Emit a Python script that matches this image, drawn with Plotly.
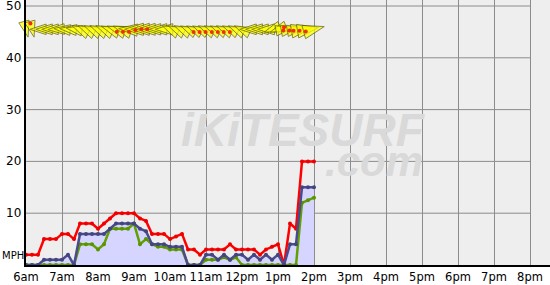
import math
import plotly.graph_objects as go

# ---- data ----
times = ["06:00","06:10","06:20","06:30","06:40","06:50","07:00","07:10","07:20","07:30",
         "07:40","07:50","08:00","08:10","08:20","08:30","08:40","08:50","09:00","09:10",
         "09:20","09:30","09:40","09:50","10:00","10:10","10:20","10:30","10:40","10:50",
         "11:00","11:10","11:20","11:30","11:40","11:50","12:00","12:10","12:20","12:30",
         "12:40","12:50","13:00","13:10","13:20","13:30","13:40","13:50","14:00"]
gust = [2,2,2,5,5,5,6,6,5,8,
        8,8,7,8,9,10,10,10,10,9,
        8.5,6,6,6,5,5.5,6,3,3,2,
        3,3,3,3,4,3,3,3,3,2,
        3,3.5,4,0,8,7,20,20,20]
avg = [0,0,0,1,1,1,1,2,0,6,
       6,6,6,6,7,8,8,8,8,7,
       6.5,4,4,4,3.5,3.5,3.5,0,0,0,
       2,2,1,2,1,2,2,1,2,1,
       2,1,2,0,4,4,15,15,15]
lull = [0,0,0,0,0,0,0,0,0,4,
        4,4,3,4,7,7,7,7,8,4,
        5,4,3.5,3.5,3,3,3,0,0,0,
        1,1,1,1.5,1,1.5,0,0,0,0,
        0,0,0,0,0,0,12,12.5,13]
direction = [165,165,270,270,270,268,275,275,280,295,
             295,295,295,295,290,290,290,275,270,270,
             270,270,270,270,295,295,295,295,295,295,
             295,295,295,295,295,295,295,270,270,270,
             270,250,250,80,80,80,80,80,75]
gusty = [1,1,0,0,0,0,0,0,0,0,
         0,0,0,0,1,1,1,1,1,1,
         0,0,0,0,0,0,0,1,1,1,
         1,1,1,1,0,0,0,0,0,0,
         0,0,1,0,1,1,1,1,1]
hour_vals = [6,7,8,9,10,11,12,13,14,15,16,17,18,19,20]
hour_labels = ["6am","7am","8am","9am","10am","11am","12pm","1pm","2pm","3pm",
               "4pm","5pm","6pm","7pm","8pm"]
y_ticks = [10, 20, 30, 40, 50]

x = [int(t[:2]) + int(t[3:]) / 60 for t in times]

PX_PER_HOUR = 36.0
PX_PER_MPH = 265 / 51.16

fig = go.Figure()

fig.add_trace(go.Scatter(x=x, y=avg, mode="none", fill="tozeroy",
                         fillcolor="#D5D5FF", hoverinfo="skip"))
fig.add_trace(go.Scatter(x=x, y=lull, mode="lines+markers",
                         line=dict(color="#62A000", width=2.5),
                         marker=dict(size=4, color="#5A9400")))
fig.add_trace(go.Scatter(x=x, y=gust, mode="lines+markers",
                         line=dict(color="#FF0000", width=2.5),
                         marker=dict(size=4, color="#EE0000")))
fig.add_trace(go.Scatter(x=x, y=avg, mode="lines+markers",
                         line=dict(color="#4A4A8E", width=2.5),
                         marker=dict(size=4, color="#44447F")))

# wind direction arrows (centred on each reading, red tail marks gusts)
arrow_level = 45.5
arrow_size = [17 + 0.35 * a for a in avg]
ax_, ay_, tx_, ty_ = [], [], [], []
for xi, d, s, g in zip(x, direction, arrow_size, gusty):
    half = 0.95 * s / 2
    dx = math.sin(math.radians(d))
    dy = math.cos(math.radians(d))
    ax_.append(xi + dx * half / PX_PER_HOUR)
    ay_.append(arrow_level + dy * half / PX_PER_MPH)
    if g:
        tx_.append(xi - dx * (half - 2) / PX_PER_HOUR)
        ty_.append(arrow_level - dy * (half - 2) / PX_PER_MPH)
fig.add_trace(go.Scatter(x=ax_, y=ay_, mode="markers", cliponaxis=False,
                         marker=dict(symbol="arrow", angle=direction, size=arrow_size,
                                     color="#FFFF00",
                                     line=dict(color="#5E5E00", width=1))))
fig.add_trace(go.Scatter(x=tx_, y=ty_, mode="markers", cliponaxis=False,
                         marker=dict(size=4, color="#F03000", line=dict(width=0))))

# horizontal grid lines up to 8pm, y labels
for yt in y_ticks:
    fig.add_shape(type="line", xref="x", yref="y", x0=hour_vals[0], x1=hour_vals[-1],
                  y0=yt, y1=yt, line=dict(color="#8C8C8C", width=1), layer="below")
    fig.add_annotation(text=str(yt), xref="paper", yref="y", x=0, xanchor="right",
                       xshift=-3, y=yt, showarrow=False,
                       font=dict(family="DejaVu Sans", size=12, color="#000000"))

# watermark
fig.add_annotation(text="<b><i>iKiTESURF</i></b>", xref="paper", yref="paper",
                   x=0.529, y=0.51, showarrow=False,
                   font=dict(family="Liberation Sans", size=46, color="#D9D9D9"))
fig.add_annotation(text="<b><i>.com</i></b>", xref="paper", yref="paper",
                   x=0.665, y=0.39, showarrow=False,
                   font=dict(family="Liberation Sans", size=42, color="#D9D9D9"))
fig.add_annotation(text="MPH", xref="paper", yref="y", x=0, xanchor="left",
                   xshift=-26, y=1.8, showarrow=False,
                   font=dict(family="DejaVu Sans", size=10, color="#000000"))

fig.update_layout(
    width=550, height=285,
    margin=dict(l=26, r=0, t=0, b=20, autoexpand=False),
    paper_bgcolor="#FFFFFF", plot_bgcolor="#EEEEEE",
    showlegend=False,
    xaxis=dict(range=[6, 6 + 524 / PX_PER_HOUR], tickvals=hour_vals, ticktext=hour_labels,
               tickangle=0, automargin=False,
               showgrid=True, gridcolor="#8C8C8C", gridwidth=1,
               showline=True, linecolor="#000000", linewidth=2,
               ticks="", zeroline=False,
               tickfont=dict(family="DejaVu Sans", size=11.5, color="#000000")),
    yaxis=dict(range=[0, 51.16], showticklabels=False, showgrid=False, automargin=False,
               showline=True, linecolor="#000000", linewidth=2,
               ticks="", zeroline=False),
)

fig.write_html("out.html")
